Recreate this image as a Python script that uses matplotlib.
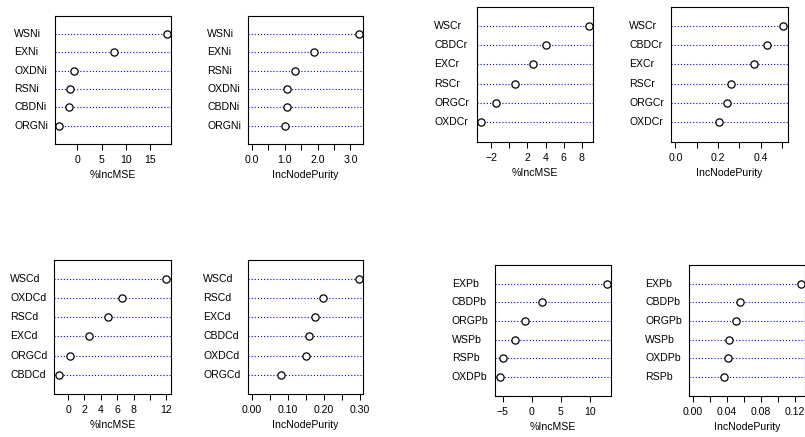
import matplotlib.pyplot as plt
from matplotlib.transforms import blended_transform_factory

plt.rcParams['font.family'] = ['Liberation Sans', 'DejaVu Sans']

# Variable importance, rows listed top to bottom
ni_mse_labels = ["WSNi", "EXNi", "OXDNi", "RSNi", "CBDNi", "ORGNi"]
ni_mse = [18.4, 7.5, -0.6, -1.5, -1.8, -3.7]
ni_pur_labels = ["WSNi", "EXNi", "RSNi", "OXDNi", "CBDNi", "ORGNi"]
ni_pur = [3.26, 1.89, 1.31, 1.08, 1.06, 1.00]

cr_mse_labels = ["WSCr", "CBDCr", "EXCr", "RSCr", "ORGCr", "OXDCr"]
cr_mse = [8.82, 4.08, 2.65, 0.66, -1.47, -3.15]
cr_pur_labels = ["WSCr", "CBDCr", "EXCr", "RSCr", "ORGCr", "OXDCr"]
cr_pur = [0.506, 0.427, 0.369, 0.262, 0.240, 0.206]

cd_mse_labels = ["WSCd", "OXDCd", "RSCd", "EXCd", "ORGCd", "CBDCd"]
cd_mse = [12.0, 6.58, 4.87, 2.58, 0.29, -1.15]
cd_pur_labels = ["WSCd", "RSCd", "EXCd", "CBDCd", "OXDCd", "ORGCd"]
cd_pur = [0.297, 0.196, 0.174, 0.158, 0.151, 0.080]

pb_mse_labels = ["EXPb", "CBDPb", "ORGPb", "WSPb", "RSPb", "OXDPb"]
pb_mse = [12.95, 1.75, -1.08, -2.9, -4.89, -5.52]
pb_pur_labels = ["EXPb", "CBDPb", "ORGPb", "WSPb", "OXDPb", "RSPb"]
pb_pur = [0.1264, 0.0553, 0.0506, 0.0420, 0.0416, 0.0369]

# tick positions and their labels (R drops labels that would collide)
ni_mse_ticks = [0, 5, 10, 15]
ni_mse_ticklabels = ["0", "5", "10", "15"]
ni_pur_ticks = [0, 0.5, 1.0, 1.5, 2.0, 2.5, 3.0]
ni_pur_ticklabels = ["0.0", "", "1.0", "", "2.0", "", "3.0"]
cr_mse_ticks = [-2, 0, 2, 4, 6, 8]
cr_mse_ticklabels = ["\u22122", "", "2", "4", "6", "8"]
cr_pur_ticks = [0, 0.1, 0.2, 0.3, 0.4, 0.5]
cr_pur_ticklabels = ["0.0", "", "0.2", "", "0.4", ""]
cd_mse_ticks = [0, 2, 4, 6, 8, 10, 12]
cd_mse_ticklabels = ["0", "2", "4", "6", "8", "", "12"]
cd_pur_ticks = [0, 0.05, 0.10, 0.15, 0.20, 0.25, 0.30]
cd_pur_ticklabels = ["0.00", "", "0.10", "", "0.20", "", "0.30"]
pb_mse_ticks = [-5, 0, 5, 10]
pb_mse_ticklabels = ["\u22125", "0", "5", "10"]
pb_pur_ticks = [0, 0.02, 0.04, 0.06, 0.08, 0.10, 0.12]
pb_pur_ticklabels = ["0.00", "", "0.04", "", "0.08", "", "0.12"]

W, H = 805, 437
fig = plt.figure(figsize=(W / 100, H / 100), dpi=100)
FS = 7.6


def dotchart(box, label_x, labels, values, ticks, ticklabels, xlab, purity):
    """Draw one varImpPlot-style dot chart; box is (x0, x1, y0, y1) in pixels."""
    x0, x1, y0, y1 = box
    ax = fig.add_axes([x0 / W, 1 - y1 / H, (x1 - x0) / W, (y1 - y0) / H])
    n = len(values)
    ys = [n - i for i in range(n)]
    lo = 0 if purity else min(values)
    hi = max(values)
    pad = (hi - lo) * 0.04
    ax.set_xlim(lo - pad, hi + pad)
    ax.set_ylim(0, n + 1)
    for y in ys:
        ax.axhline(y, color='#0000ff', linestyle=(0, (1, 1.8)), linewidth=0.8)
    ax.plot(values, ys, 'o', markersize=5.2, markerfacecolor='white',
            markeredgecolor='black', markeredgewidth=0.9, linestyle='none')
    trans = blended_transform_factory(ax.transAxes, ax.transData)
    for lab, y in zip(labels, ys):
        ax.text((label_x - x0) / (x1 - x0), y, lab, transform=trans,
                ha='left', va='center', fontsize=FS)
    ax.set_yticks([])
    ax.set_xticks(ticks)
    ax.set_xticklabels(ticklabels, fontsize=FS)
    ax.tick_params(axis='x', length=4, width=0.75, pad=4)
    ax.set_xlabel(xlab, fontsize=FS, labelpad=3.5)
    for s in ax.spines.values():
        s.set_linewidth(0.8)
    return ax


dotchart((55, 171, 15.5, 144), 14, ni_mse_labels, ni_mse,
         ni_mse_ticks, ni_mse_ticklabels, "%IncMSE", False)
dotchart((247.7, 363.3, 15.5, 144), 207.3, ni_pur_labels, ni_pur,
         ni_pur_ticks, ni_pur_ticklabels, "IncNodePurity", True)
dotchart((476.7, 593.3, 6.5, 141.7), 434, cr_mse_labels, cr_mse,
         cr_mse_ticks, cr_mse_ticklabels, "%IncMSE", False)
dotchart((671, 787.7, 6.5, 141.7), 629.3, cr_pur_labels, cr_pur,
         cr_pur_ticks, cr_pur_ticklabels, "IncNodePurity", True)
dotchart((54.3, 170.7, 259.5, 394), 10, cd_mse_labels, cd_mse,
         cd_mse_ticks, cd_mse_ticklabels, "%IncMSE", False)
dotchart((247.7, 363.3, 259.5, 394), 203.3, cd_pur_labels, cd_pur,
         cd_pur_ticks, cd_pur_ticklabels, "IncNodePurity", True)
dotchart((495.3, 611, 265, 395.7), 451.7, pb_mse_labels, pb_mse,
         pb_mse_ticks, pb_mse_ticklabels, "%IncMSE", False)
dotchart((688.7, 805, 265, 395.7), 645, pb_pur_labels, pb_pur,
         pb_pur_ticks, pb_pur_ticklabels, "IncNodePurity", True)

fig.savefig("out.png", dpi=100)
